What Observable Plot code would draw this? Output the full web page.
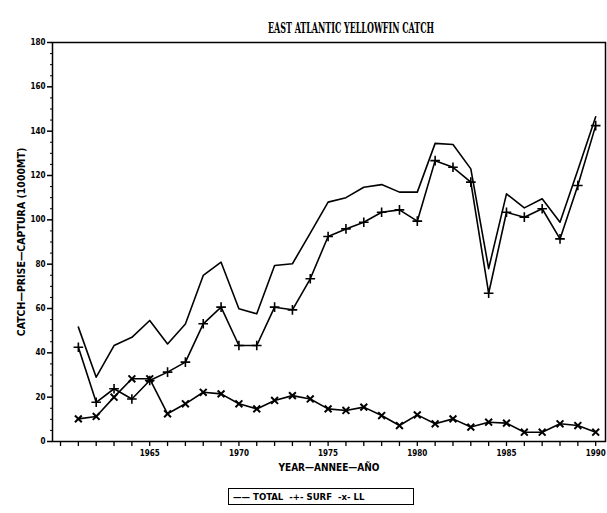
<!DOCTYPE html>
<html><head><meta charset="utf-8">
<script src="https://cdn.jsdelivr.net/npm/d3@7"></script>
<script src="https://cdn.jsdelivr.net/npm/@observablehq/plot@0.6"></script>
<style>
body{margin:0;background:#fff;}
#wrap{width:607px;height:513px;position:relative;font-family:"DejaVu Sans Condensed","DejaVu Sans",sans-serif;color:#000;}
#title{position:absolute;left:0;top:0;}
#chart{position:absolute;left:0;top:36px;}
#legend{position:absolute;left:228px;top:488px;width:180px;height:15px;border:1.5px solid #000;font-size:9.5px;font-weight:bold;line-height:15px;white-space:pre;padding-left:4px;box-sizing:content-box;}
</style></head><body>
<div id="wrap">
<svg id="title" width="607" height="36"><text x="351" y="33" text-anchor="middle" font-family="DejaVu Serif Condensed, DejaVu Serif, serif" font-weight="bold" font-size="15" textLength="166" lengthAdjust="spacingAndGlyphs">EAST ATLANTIC YELLOWFIN CATCH</text></svg>
<div id="chart"></div>
<div id="legend">—— TOTAL  -+- SURF  -x- LL</div>
</div>
<script>
const years = [1961,1962,1963,1964,1965,1966,1967,1968,1969,1970,1971,1972,1973,1974,1975,1976,1977,1978,1979,1980,1981,1982,1983,1984,1985,1986,1987,1988,1989,1990];
const total = [51.6,29.0,43.3,47.0,54.6,44.0,53.0,74.9,80.9,59.9,57.6,79.4,80.2,94.0,108.0,110.0,114.7,115.9,112.5,112.5,134.5,134.0,123.0,78.0,111.7,105.4,109.5,98.9,122.5,146.5];
const surf = [42.5,17.7,23.8,19.2,27.5,31.3,35.8,53.1,60.6,43.3,43.3,60.6,59.4,73.4,92.5,95.9,98.9,103.4,104.5,99.4,126.7,123.7,117.0,66.9,103.4,101.2,105.0,91.4,115.5,142.5];
const ll = [10.2,11.3,20.0,28.3,28.3,12.5,17.0,22.2,21.5,17.0,14.7,18.5,20.7,19.2,14.7,14.0,15.5,11.7,7.2,12.0,8.0,10.2,6.5,8.7,8.3,4.2,4.2,8.0,7.2,4.2];
const xTicks = [1960,1961,1962,1963,1964,1965,1966,1967,1968,1969,1970,1971,1972,1973,1974,1975,1976,1977,1978,1979,1980,1981,1982,1983,1984,1985,1986,1987,1988,1989,1990];
const xLabels = [1965,1970,1975,1980,1985,1990];
const yTicks = [0,20,40,60,80,100,120,140,160,180];
const yMinor = [5,10,15,25,30,35,45,50,55,65,70,75,85,90,95,105,110,115,125,130,135,145,150,155,165,170,175];
const title = "EAST ATLANTIC YELLOWFIN CATCH";
const yLabel = "CATCH—PRISE—CAPTURA (1000MT)";
const xLabel = "YEAR—ANNEE—AÑO";

const data = years.map((y,i)=>({year:y,total:total[i],surf:surf[i],ll:ll[i]}));

const chart = Plot.plot({
  width:607, height:444,
  marginTop:6, marginLeft:52, marginRight:2, marginBottom:39,
  x:{domain:[1959.55,1990.55]},
  y:{domain:[0,180]},
  style:{fontFamily:'"DejaVu Sans Condensed","DejaVu Sans",sans-serif', fontSize:"8px", fontWeight:"bold", color:"#000", background:"#fff"},
  marks:[
    Plot.frame({stroke:"#000", strokeWidth:1.5}),
    Plot.axisY({ticks:yTicks, tickSize:5, tickPadding:2, tickFormat:d=>String(d), label:null, strokeWidth:1.5}),
    Plot.axisY({ticks:yMinor, tickSize:2, tickFormat:()=>"", label:null}),
    Plot.axisX({ticks:xTicks, tickSize:5, tickPadding:4, strokeWidth:1.3, tickFormat:d=>xLabels.includes(d)?String(d):"", label:null}),
    Plot.text([yLabel], {frameAnchor:"left", textAnchor:"middle", rotate:-90, dx:-31, fontSize:10.5, fontWeight:"bold"}),
    Plot.text([xLabel], {frameAnchor:"bottom", dy:29, fontSize:10, fontWeight:"bold"}),
    Plot.line(data, {x:"year", y:"total", stroke:"#000", strokeWidth:1.6}),
    Plot.line(data, {x:"year", y:"surf", stroke:"#000", strokeWidth:1.6}),
    Plot.dot(data, {x:"year", y:"surf", symbol:"plus", r:3.2, stroke:"#000", strokeWidth:1.6}),
    Plot.line(data, {x:"year", y:"ll", stroke:"#000", strokeWidth:1.6}),
    Plot.dot(data, {x:"year", y:"ll", symbol:"times", r:3.2, stroke:"#000", strokeWidth:2})
  ]
});
document.getElementById("chart").appendChild(chart);
</script>
</body></html>
